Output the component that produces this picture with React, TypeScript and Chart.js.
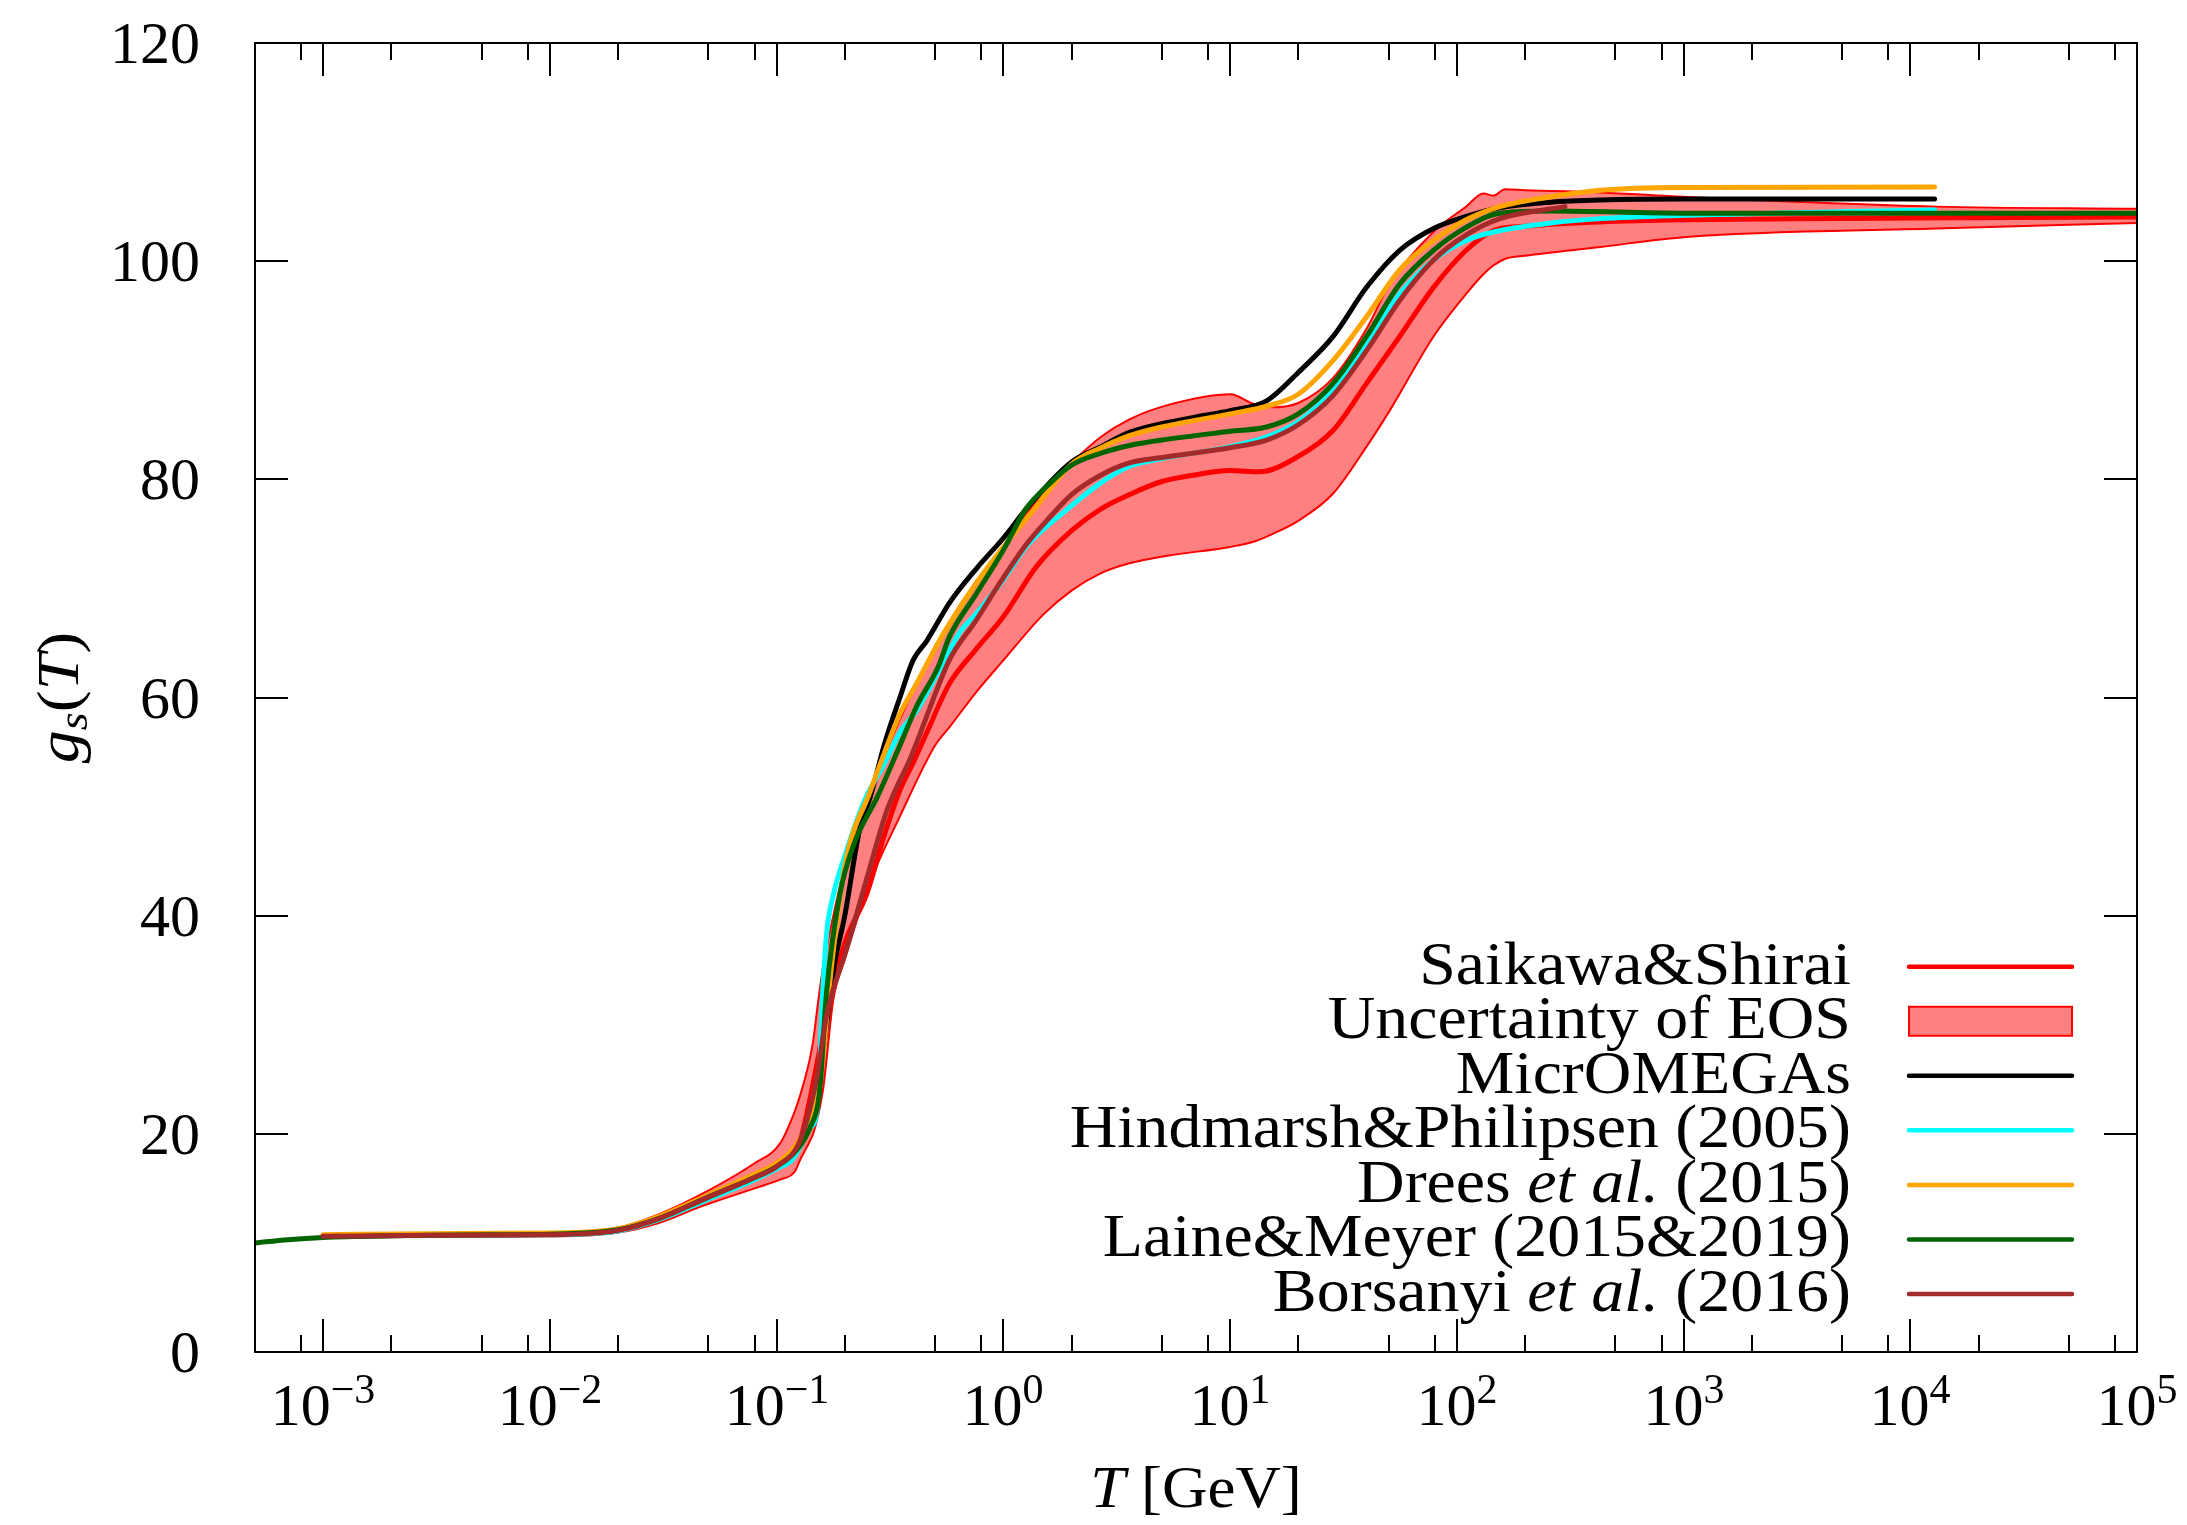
import React, { useEffect, useRef } from 'react';
import { Chart, registerables } from 'chart.js';

Chart.register(...registerables);

// ---------- layout constants ----------
const W = 2187;
const H = 1525;
const PLOT_LEFT = 255;
const PLOT_TOP = 43;
const PLOT_RIGHT = 2137;
const PLOT_BOTTOM = 1352;
const FONT = '"Liberation Serif", "Times New Roman", serif';

// ---------- axes ----------
const X_MIN = 5.01e-4;
const X_MAX = 1e5;
const Y_MIN = 0;
const Y_MAX = 120;
const yTickValues = [0, 20, 40, 60, 80, 100, 120];
const xMajorExps = [-3, -2, -1, 0, 1, 2, 3, 4, 5];
const xMinorMantissas = [2, 5, 8];

// ---------- data (T in GeV, g_s) ----------
const redT = [1e-3, 3e-3, 1e-2, 2e-2, 3e-2, 5e-2, 8e-2, 0.1035, 0.127, 0.15, 0.166, 0.2, 0.25, 0.3, 0.35, 0.4, 0.46, 0.58, 0.75, 1.0, 1.4, 2.0, 2.7, 3.6, 5, 7, 10, 13.5, 20, 28.5, 40, 56, 79, 110, 145, 200, 430, 1000, 1e4, 1e5];
const redG = [10.6, 10.7, 10.75, 11.1, 12.2, 14.0, 16.0, 17.3, 19.4, 26.2, 31.0, 37.5, 42.0, 47.5, 51.5, 54.0, 56.8, 61.3, 64.3, 67.4, 72.0, 75.3, 77.3, 78.6, 79.8, 80.4, 80.8, 80.7, 82.1, 84.5, 88.8, 93.1, 97.6, 101.0, 102.8, 103.2, 103.6, 103.8, 103.95, 104.05];

const bandT = [1e-3, 3e-3, 1e-2, 2e-2, 3e-2, 4.6e-2, 8e-2, 0.1035, 0.12, 0.127, 0.14, 0.145, 0.153, 0.161, 0.178, 0.2, 0.26, 0.35, 0.5, 0.58, 0.76, 1.0, 1.5, 2.0, 2.7, 3.6, 5.3, 10, 12.8, 15.4, 20, 28.5, 40, 50.6, 79, 110, 131, 145, 163, 200, 430, 1000, 1.3e4, 1e5];
const bandUpper = [10.8, 10.85, 10.9, 11.4, 12.6, 14.4, 17.3, 19.1, 22.0, 23.5, 26.8, 28.5, 32.3, 35.5, 40.0, 44.5, 51.3, 58.0, 64.5, 66.8, 70.3, 73.8, 78.8, 81.5, 83.9, 85.5, 86.8, 87.8, 86.9, 86.6, 87.0, 89.3, 93.8, 97.9, 102.7, 105.0, 106.2, 106.0, 106.6, 106.5, 106.3, 105.9, 105.0, 104.8];
const bandLower = [10.5, 10.6, 10.65, 10.95, 11.8, 13.3, 15.0, 15.8, 16.5, 17.6, 19.3, 20.0, 21.8, 24.3, 32.3, 36.0, 43.2, 49.1, 55.6, 57.3, 60.5, 63.4, 67.6, 69.8, 71.4, 72.3, 73.0, 73.8, 74.3, 75.0, 76.2, 78.7, 83.0, 86.3, 93.1, 97.0, 98.8, 99.6, 100.2, 100.5, 101.3, 102.2, 103.0, 103.5];

const blackT = [1e-3, 3e-3, 1e-2, 2e-2, 3e-2, 5e-2, 8e-2, 0.1, 0.12, 0.14, 0.16, 0.18, 0.2, 0.233, 0.26, 0.3, 0.35, 0.4, 0.46, 0.58, 0.76, 1.0, 1.3, 2.0, 2.7, 3.6, 5, 7, 10, 14.5, 20, 28.5, 40, 56, 79, 110, 155, 260, 430, 1000, 12800];
const blackG = [10.65, 10.75, 10.8, 11.2, 12.2, 14.2, 16.0, 17.0, 18.4, 21.0, 27.5, 35.5, 40.0, 48.0, 51.0, 55.8, 60.0, 63.4, 65.2, 68.7, 71.8, 74.6, 77.6, 81.6, 83.0, 84.3, 85.1, 85.7, 86.3, 87.2, 89.8, 93.1, 97.6, 101.0, 103.0, 104.1, 104.9, 105.4, 105.6, 105.7, 105.7];

const cyanT = [1e-3, 3e-3, 1e-2, 2e-2, 3e-2, 5e-2, 8e-2, 0.1, 0.118, 0.14, 0.15, 0.155, 0.158, 0.166, 0.178, 0.204, 0.245, 0.3, 0.35, 0.415, 0.516, 0.644, 0.76, 1.0, 1.27, 1.9, 2.7, 3.6, 5, 10, 14.5, 20, 28.5, 40, 56, 79, 110, 155, 260, 430, 1000, 12800];
const cyanG = [10.6, 10.7, 10.75, 11.1, 12.1, 14.0, 15.8, 16.8, 17.7, 20.5, 21.8, 26.0, 30.8, 38.2, 41.9, 46.0, 50.6, 54.0, 56.8, 58.8, 62.3, 66.0, 67.7, 70.8, 73.9, 77.2, 79.7, 81.2, 81.9, 83.0, 83.9, 85.3, 88.2, 92.5, 97.0, 100.1, 101.9, 102.8, 103.5, 103.9, 104.2, 104.7];

const orangeT = [1e-3, 3e-3, 1e-2, 2e-2, 3e-2, 5e-2, 8e-2, 0.1, 0.12, 0.14, 0.16, 0.172, 0.2, 0.26, 0.3, 0.35, 0.415, 0.516, 0.58, 0.76, 1.0, 1.36, 2.0, 2.7, 3.6, 5, 10, 14.5, 20, 28.5, 40, 56, 79, 110, 155, 260, 430, 1000, 12800];
const orangeG = [10.75, 10.85, 10.9, 11.3, 12.4, 14.4, 16.3, 17.3, 18.8, 21.5, 27.0, 34.0, 44.5, 51.5, 55.0, 58.5, 61.3, 65.0, 66.8, 70.5, 73.8, 77.2, 81.4, 82.9, 84.0, 84.8, 86.0, 86.7, 87.8, 90.9, 94.9, 99.2, 101.9, 103.8, 105.0, 105.9, 106.5, 106.75, 106.8];

const greenT = [5e-4, 7e-4, 1e-3, 2e-3, 5e-3, 1e-2, 2e-2, 3e-2, 5e-2, 8e-2, 0.1, 0.12, 0.14, 0.155, 0.166, 0.19, 0.218, 0.28, 0.35, 0.415, 0.516, 0.58, 0.76, 1.0, 1.26, 1.6, 2.0, 2.7, 3.6, 5, 10, 14.5, 20, 28.5, 40, 56, 79, 110, 155, 260, 1000, 1e4, 1e5];
const greenG = [10.0, 10.3, 10.5, 10.65, 10.75, 10.8, 11.2, 12.2, 14.2, 16.0, 17.0, 18.3, 20.5, 24.0, 32.9, 41.9, 46.4, 51.0, 55.6, 59.2, 62.8, 65.6, 69.5, 73.5, 77.3, 79.6, 81.3, 82.4, 83.1, 83.6, 84.4, 84.8, 86.0, 88.8, 93.1, 97.9, 101.0, 103.1, 104.4, 104.6, 104.4, 104.4, 104.4];

const brownT = [1e-3, 3e-3, 1e-2, 2e-2, 3e-2, 5e-2, 8e-2, 0.1, 0.127, 0.15, 0.166, 0.204, 0.258, 0.305, 0.35, 0.387, 0.516, 0.58, 0.76, 0.966, 1.26, 1.6, 2.0, 2.7, 3.6, 5, 10, 14.5, 20, 28.5, 40, 56, 79, 110, 155, 300];
const brownG = [10.6, 10.7, 10.75, 11.15, 12.2, 14.2, 16.0, 17.0, 19.4, 25.0, 30.8, 37.0, 44.4, 49.5, 52.4, 54.3, 61.0, 63.5, 67.1, 70.5, 74.0, 76.5, 78.6, 80.4, 81.5, 82.0, 82.9, 83.6, 85.0, 87.7, 91.8, 96.4, 100.1, 102.4, 103.9, 105.0];

// ---------- colours ----------
const RED = '#ff0000';
const BAND_FILL = 'rgb(255,128,128)';
const BLACK = '#000000';
const CYAN = '#00ffff';
const ORANGE = '#ffa500';
const GREEN = '#006400';
const BROWN = '#a52a2a';

type Part = { t: string; it?: boolean; size?: number; dy?: number };

const legendEntries: { parts: Part[]; color: string; kind: 'line' | 'box' }[] = [
  { parts: [{ t: 'Saikawa&Shirai' }], color: RED, kind: 'line' },
  { parts: [{ t: 'Uncertainty of EOS' }], color: BAND_FILL, kind: 'box' },
  { parts: [{ t: 'MicrOMEGAs' }], color: BLACK, kind: 'line' },
  { parts: [{ t: 'Hindmarsh&Philipsen (2005)' }], color: CYAN, kind: 'line' },
  { parts: [{ t: 'Drees ' }, { t: 'et al.', it: true }, { t: ' (2015)' }], color: ORANGE, kind: 'line' },
  { parts: [{ t: 'Laine&Meyer (2015&2019)' }], color: GREEN, kind: 'line' },
  { parts: [{ t: 'Borsanyi ' }, { t: 'et al.', it: true }, { t: ' (2016)' }], color: BROWN, kind: 'line' },
];

const pts = (t: number[], g: number[]) => t.map((v, i) => ({ x: v, y: g[i] }));

function drawRich(
  ctx: CanvasRenderingContext2D,
  parts: Part[],
  x: number,
  y: number,
  align: 'left' | 'right' | 'center',
  baseSize: number,
  scaleX = 1
) {
  const fonts = parts.map((p) => `${p.it ? 'italic ' : ''}${p.size ?? baseSize}px ${FONT}`);
  const widths = parts.map((p, i) => {
    ctx.font = fonts[i];
    return ctx.measureText(p.t).width;
  });
  const total = widths.reduce((a, b) => a + b, 0) * scaleX;
  const start = align === 'right' ? x - total : align === 'center' ? x - total / 2 : x;
  ctx.save();
  ctx.translate(start, y);
  ctx.scale(scaleX, 1);
  ctx.textAlign = 'left';
  ctx.textBaseline = 'alphabetic';
  let cx = 0;
  parts.forEach((p, i) => {
    ctx.font = fonts[i];
    ctx.fillText(p.t, cx, p.dy ?? 0);
    cx += widths[i];
  });
  ctx.restore();
}

const overlay = {
  id: 'overlay',
  afterDraw(chart: any) {
    const ctx: CanvasRenderingContext2D = chart.ctx;
    const a = chart.chartArea;
    const xs = chart.scales.x;
    const ys = chart.scales.y;
    ctx.save();
    ctx.strokeStyle = '#000';
    ctx.fillStyle = '#000';
    ctx.lineWidth = 2;
    ctx.lineCap = 'butt';
    // frame
    ctx.strokeRect(a.left, a.top, a.right - a.left, a.bottom - a.top);

    const MAJ = 33;
    const MIN = 17;
    // y ticks
    yTickValues.forEach((v) => {
      const py = Math.round(ys.getPixelForValue(v));
      ctx.beginPath();
      ctx.moveTo(a.left, py);
      ctx.lineTo(a.left + MAJ, py);
      ctx.moveTo(a.right, py);
      ctx.lineTo(a.right - MAJ, py);
      ctx.stroke();
      ctx.font = `60px ${FONT}`;
      ctx.textAlign = 'right';
      ctx.textBaseline = 'alphabetic';
      ctx.fillText(String(v), a.left - 55, py + 20);
    });

    // x ticks
    const minors: number[] = [];
    for (let e = -4; e <= 4; e++) {
      xMinorMantissas.forEach((m) => {
        const v = m * Math.pow(10, e);
        if (v >= X_MIN && v <= X_MAX) minors.push(v);
      });
    }
    minors.forEach((v) => {
      const px = Math.round(xs.getPixelForValue(v));
      ctx.beginPath();
      ctx.moveTo(px, a.bottom);
      ctx.lineTo(px, a.bottom - MIN);
      ctx.moveTo(px, a.top);
      ctx.lineTo(px, a.top + MIN);
      ctx.stroke();
    });
    xMajorExps.forEach((e) => {
      const v = Math.pow(10, e);
      const px = Math.round(xs.getPixelForValue(v));
      ctx.beginPath();
      ctx.moveTo(px, a.bottom);
      ctx.lineTo(px, a.bottom - MAJ);
      ctx.moveTo(px, a.top);
      ctx.lineTo(px, a.top + MAJ);
      ctx.stroke();
      const expStr = e < 0 ? '\u2212' + Math.abs(e) : String(e);
      drawRich(ctx, [{ t: '10' }, { t: expStr, size: 42, dy: -22 }], px, a.bottom + 73, 'center', 60);
    });

    // x title
    drawRich(ctx, [{ t: 'T', it: true }, { t: ' [GeV]' }], (a.left + a.right) / 2, 1507, 'center', 60, 1.05);

    // y title (rotated)
    ctx.save();
    ctx.translate(78, (a.top + a.bottom) / 2);
    ctx.rotate(-Math.PI / 2);
    drawRich(
      ctx,
      [{ t: 'g', it: true }, { t: 's', it: true, size: 42, dy: 9 }, { t: '(' }, { t: 'T', it: true }, { t: ')' }],
      0,
      0,
      'center',
      60,
      1.1
    );
    ctx.restore();

    // legend
    const textRight = 1851;
    const sx0 = 1909;
    const sx1 = 2072;
    legendEntries.forEach((en, i) => {
      const ry = 966.7 + i * 54.55;
      ctx.fillStyle = '#000';
      drawRich(ctx, en.parts, textRight, ry + 17, 'right', 61, 1.08);
      if (en.kind === 'line') {
        ctx.strokeStyle = en.color;
        ctx.lineWidth = 4.5;
        ctx.lineCap = 'round';
        ctx.beginPath();
        ctx.moveTo(sx0, ry);
        ctx.lineTo(sx1, ry);
        ctx.stroke();
      } else {
        ctx.fillStyle = en.color;
        ctx.fillRect(sx0, ry - 14.5, sx1 - sx0, 29);
        ctx.strokeStyle = RED;
        ctx.lineWidth = 2;
        ctx.strokeRect(sx0, ry - 14.5, sx1 - sx0, 29);
      }
    });
    ctx.restore();
  },
};

export default function App() {
  const ref = useRef<HTMLCanvasElement | null>(null);

  useEffect(() => {
    const canvas = ref.current;
    if (!canvas) return;
    const lineDs = (label: string, t: number[], g: number[], color: string, order: number, width = 5) => ({
      label,
      data: pts(t, g),
      borderColor: color,
      backgroundColor: color,
      borderWidth: width,
      borderCapStyle: 'round' as const,
      borderJoinStyle: 'round' as const,
      fill: false,
      order,
      pointRadius: 0,
      cubicInterpolationMode: 'monotone' as const,
    });
    const chart = new Chart(canvas, {
      type: 'line',
      data: {
        datasets: [
          { ...lineDs('EOS lower', bandT, bandLower, RED, 8, 2), borderCapStyle: 'butt' as const },
          { ...lineDs('Uncertainty of EOS', bandT, bandUpper, RED, 7, 2), borderCapStyle: 'butt' as const, fill: '-1', backgroundColor: BAND_FILL },
          lineDs('Saikawa&Shirai', redT, redG, RED, 6),
          lineDs('MicrOMEGAs', blackT, blackG, BLACK, 5),
          lineDs('Hindmarsh&Philipsen (2005)', cyanT, cyanG, CYAN, 4),
          lineDs('Drees et al. (2015)', orangeT, orangeG, ORANGE, 3),
          lineDs('Laine&Meyer (2015&2019)', greenT, greenG, GREEN, 2),
          lineDs('Borsanyi et al. (2016)', brownT, brownG, BROWN, 1),
        ] as any,
      },
      options: {
        responsive: false,
        animation: false,
        devicePixelRatio: 1,
        layout: { padding: { top: PLOT_TOP, right: W - PLOT_RIGHT, left: 0, bottom: 0 } },
        scales: {
          x: {
            type: 'logarithmic',
            min: X_MIN,
            max: X_MAX,
            grid: { display: false },
            border: { display: false },
            ticks: { display: false },
            afterFit: (s: any) => {
              s.height = H - PLOT_BOTTOM;
            },
          },
          y: {
            type: 'linear',
            min: Y_MIN,
            max: Y_MAX,
            grid: { display: false },
            border: { display: false },
            ticks: { display: false },
            afterFit: (s: any) => {
              s.width = PLOT_LEFT;
            },
          },
        },
        plugins: {
          legend: { display: false },
          tooltip: { enabled: false },
          filler: { drawTime: 'beforeDatasetsDraw' },
        },
        elements: { point: { radius: 0 } },
      } as any,
      plugins: [overlay],
    });
    return () => chart.destroy();
  }, []);

  return (
    <div style={{ position: 'absolute', left: 0, top: 0, width: W, height: H, background: '#ffffff' }}>
      <canvas ref={ref} width={W} height={H} style={{ display: 'block', width: W, height: H }} />
    </div>
  );
}
